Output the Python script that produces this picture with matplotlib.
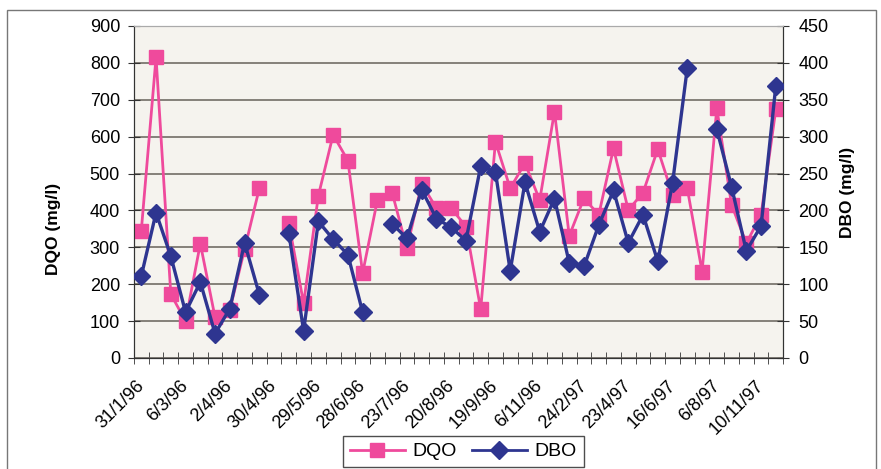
import matplotlib
matplotlib.use("Agg")
from matplotlib import pyplot as plt
from matplotlib.lines import Line2D
import numpy as np

plt.rcParams['font.family'] = ['Liberation Sans', 'DejaVu Sans']

# date labels shown on the x axis (one every 3 samples)
tick_labels = ["31/1/96", "6/3/96", "2/4/96", "30/4/96", "29/5/96", "28/6/96",
               "23/7/96", "20/8/96", "19/9/96", "6/11/96", "24/2/97", "23/4/97",
               "16/6/97", "6/8/97", "10/11/97"]

# DQO (mg/l), left axis - None = no sample
dqo = [345, 815, 173, 100, 310, 110, 130, 295, 460, None,
       365, 148, 440, 605, 535, 230, 428, 448, 297, 472,
       406, 406, 356, 132, 586, 460, 528, 428, 668, 331,
       433, 388, 568, 401, 448, 566, 442, 460, 234, 677,
       415, 311, 388, 674]

# DBO (mg/l), right axis
dbo = [111, 197, 138, 62, 103, 33, 67, 156, 86, None,
       169, 37, 185, 161, 140, 62, None, 182, 162, 228,
       189, 177, 159, 260, 252, 118, 238, 171, 216, 129,
       124, 180, 227, 156, 194, 131, 237, 393, None, 310,
       232, 145, 179, 369]

pink = "#ef4a9c"
navy = "#2e3590"

dqo = np.array(dqo, dtype=float)
dbo = np.array(dbo, dtype=float)
x = np.arange(len(dqo))

fig = plt.figure(figsize=(8.81, 4.69), dpi=100)
ax = fig.add_axes([0.152, 0.2367, 0.737, 0.708])
ax.set_facecolor("#f5f3ee")
ax2 = ax.twinx()

ax.plot(x, dqo, color=pink, lw=2, marker="s", ms=10, mec=pink, zorder=3)
ax2.plot(x, dbo, color=navy, lw=2.4, marker="D", ms=9, mec=navy, zorder=4)

ax.set_ylim(0, 900)
ax2.set_ylim(0, 450)
ax.set_yticks(np.arange(0, 901, 100))
ax2.set_yticks(np.arange(0, 451, 50))
ax.set_xlim(-0.5, len(dqo) - 0.5)
ax.yaxis.grid(True, color="#66625a", lw=1.1)
ax.set_axisbelow(True)

# category boundaries as ticks, labels every 3rd sample
# (labels nudged left a little so their end sits at the category, like Excel)
ax.set_xticks(np.arange(-0.5, len(dqo)), minor=True)
ax.set_xticks(x[::3] - 0.4)
ax.set_xticklabels(tick_labels, rotation=45, ha="right", rotation_mode="anchor",
                   fontsize=13)
ax.tick_params(axis="x", which="major", length=0, pad=14)
ax.tick_params(axis="x", which="minor", direction="inout", length=8, color="#333")
ax.tick_params(axis="y", direction="inout", length=8, labelsize=13, pad=6, color="#333")
ax2.tick_params(axis="y", direction="inout", length=8, labelsize=13, pad=7, color="#333")

for a in (ax, ax2):
    a.spines["top"].set_color("#aaa")
    a.spines["left"].set_color("#333")
    a.spines["right"].set_color("#333")
    a.spines["bottom"].set_color("#333")

ax.set_ylabel("DQO (mg/l)", fontsize=12.5, fontweight="bold")
ax.yaxis.set_label_coords(-0.113, 0.39)
ax2.set_ylabel("DBO (mg/l)", fontsize=12.5, fontweight="bold")
ax2.yaxis.set_label_coords(1.088, 0.5)

# outer chart border
fig.add_artist(plt.Rectangle((7 / 881, -0.1), 869 / 881, 1.1 - 10 / 469,
                             fill=False, ec="#777", lw=1, transform=fig.transFigure))

handles = [Line2D([], [], color=pink, lw=2, marker="s", ms=10),
           Line2D([], [], color=navy, lw=2, marker="D", ms=9)]
leg = fig.legend(handles, ["DQO", "DBO"], loc="center", ncol=2,
                 bbox_to_anchor=(0.526, 0.037), fontsize=14, frameon=True,
                 fancybox=False, edgecolor="#222", handlelength=2.8,
                 columnspacing=0.8, handletextpad=0.4, borderpad=0.35)
leg.get_frame().set_linewidth(1)

fig.savefig("out.png", dpi=100)
